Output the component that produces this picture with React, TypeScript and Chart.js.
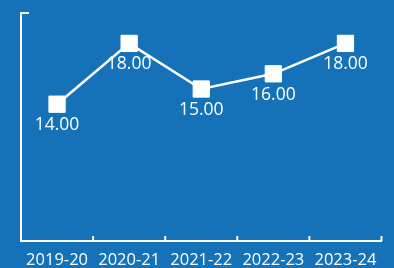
import { useEffect, useRef } from "react";
import { Chart, registerables } from "chart.js";

Chart.register(...registerables);

const categories = ["2019-20", "2020-21", "2021-22", "2022-23", "2023-24"];
const values = [14, 18, 15, 16, 18];
const yMin = 5;
const yMax = 20;

const BG = "#1672b8";
const FONT = "'Open Sans', sans-serif";

export default function App() {
  const ref = useRef<HTMLCanvasElement>(null);

  useEffect(() => {
    document.body.style.margin = "0";
    document.body.style.background = BG;
    const canvas = ref.current;
    if (!canvas) return;

    const axisDecor = {
      id: "axisDecor",
      afterDraw(chart: any) {
        const ctx = chart.ctx;
        const xs = chart.scales.x;
        const ys = chart.scales.y;
        const { left, bottom } = chart.chartArea;
        ctx.save();
        ctx.strokeStyle = "#ffffff";
        ctx.lineWidth = 2;
        ctx.beginPath();
        const ty = ys.getPixelForValue(yMax);
        ctx.moveTo(left - 1, ty);
        ctx.lineTo(left + 8, ty);
        for (let i = 1; i <= categories.length; i++) {
          const px = xs.getPixelForValue(i - 0.5);
          ctx.moveTo(px, bottom);
          ctx.lineTo(px, bottom - 5);
        }
        ctx.stroke();
        ctx.fillStyle = "#ffffff";
        ctx.font = `17.5px ${FONT}`;
        ctx.textAlign = "center";
        ctx.textBaseline = "middle";
        const meta = chart.getDatasetMeta(0);
        meta.data.forEach((pt: any, i: number) => {
          ctx.fillText(values[i].toFixed(2), pt.x, pt.y + 21);
        });
        ctx.restore();
      },
    };

    const chart = new Chart(canvas, {
      type: "line",
      data: {
        labels: categories,
        datasets: [
          {
            data: values,
            borderColor: "#ffffff",
            borderWidth: 2.5,
            pointStyle: "rect",
            pointRadius: 11.5,
            pointHoverRadius: 11.5,
            pointBackgroundColor: "#ffffff",
            pointBorderColor: "#ffffff",
            pointBorderWidth: 1,
            tension: 0,
            clip: false as any,
          },
        ],
      },
      options: {
        animation: false,
        responsive: false,
        layout: { padding: { left: 21, right: 5, top: 13, bottom: 0 } },
        plugins: {
          legend: { display: false },
          tooltip: { enabled: false },
        },
        scales: {
          x: {
            offset: true,
            grid: { display: false, drawTicks: false },
            border: { display: true, color: "#ffffff", width: 2 },
            ticks: {
              color: "#ffffff",
              font: { family: FONT, size: 16.5 },
              padding: 9,
              maxRotation: 0,
              autoSkip: false,
            },
            afterFit(scale: any) {
              scale.height = 27;
            },
          },
          y: {
            min: yMin,
            max: yMax,
            grid: { display: false, drawTicks: false },
            border: { display: true, color: "#ffffff", width: 2 },
            ticks: { display: false },
            afterFit(scale: any) {
              scale.width = 0;
            },
          },
        },
      },
      plugins: [axisDecor],
    });

    return () => chart.destroy();
  }, []);

  return (
    <div style={{ width: 394, height: 268, background: BG }}>
      <canvas ref={ref} width={394} height={268} style={{ display: "block" }} />
    </div>
  );
}
